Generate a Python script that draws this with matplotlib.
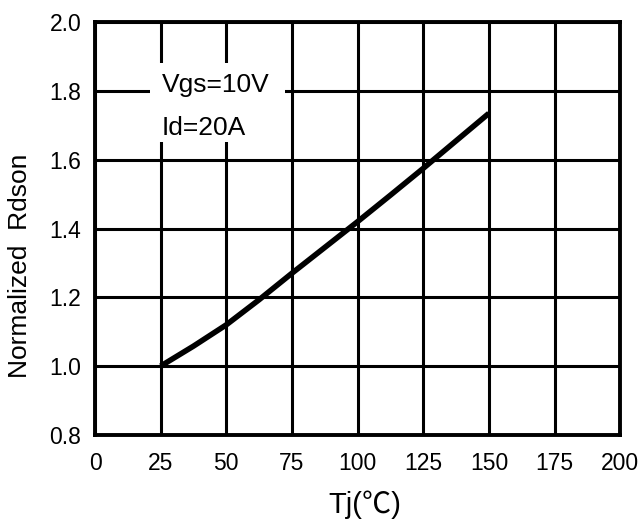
import matplotlib
matplotlib.use("Agg")
import matplotlib.pyplot as plt
from matplotlib.patches import Rectangle

plt.rcParams['font.family'] = ['Liberation Sans', 'Noto Sans CJK SC', 'DejaVu Sans']

tj = [25, 37.5, 50, 62.5, 75, 87.5, 100, 112.5, 125, 137.5, 150]
rdson = [1.0, 1.058, 1.12, 1.193, 1.27, 1.345, 1.42, 1.497, 1.575, 1.655, 1.735]
xticks = [0, 25, 50, 75, 100, 125, 150, 175, 200]
yticks = [0.8, 1.0, 1.2, 1.4, 1.6, 1.8, 2.0]

fig = plt.figure(figsize=(6.42, 5.29), dpi=100)
ax = fig.add_axes([0.148, 0.178, 0.818, 0.78])
ax.set_xlim(0, 200)
ax.set_ylim(0.8, 2.0)
ax.set_xticks(xticks)
ax.set_yticks(yticks)
ax.set_yticklabels([f"{v:.1f}" for v in yticks])
ax.grid(True, color='black', linewidth=2.2)
for s in ax.spines.values():
    s.set_linewidth(2.8)
ax.tick_params(length=0, labelsize=16.5)
ax.tick_params(axis='x', pad=12)
ax.tick_params(axis='y', pad=10)
ax.set_axisbelow(True)

# white box behind annotation text
ax.add_patch(Rectangle((21, 1.651), 51.5, 0.23, facecolor='white', edgecolor='none', zorder=2))
ax.text(25.4, 1.797, "Vgs=10V", fontsize=19, va='baseline', ha='left', zorder=3)
ax.text(25.4, 1.672, "Id=20A", fontsize=19, va='baseline', ha='left', zorder=3)

ax.plot(tj, rdson, color='black', linewidth=4, zorder=4, solid_capstyle='butt')

ax.set_xlabel("Tj(℃)", fontsize=21)
ax.set_ylabel("Normalized  Rdson", fontsize=19)
ax.xaxis.set_label_coords(0.513, -0.135)
ax.yaxis.set_label_coords(-0.12, 0.41)

fig.savefig("out.png", dpi=100)
